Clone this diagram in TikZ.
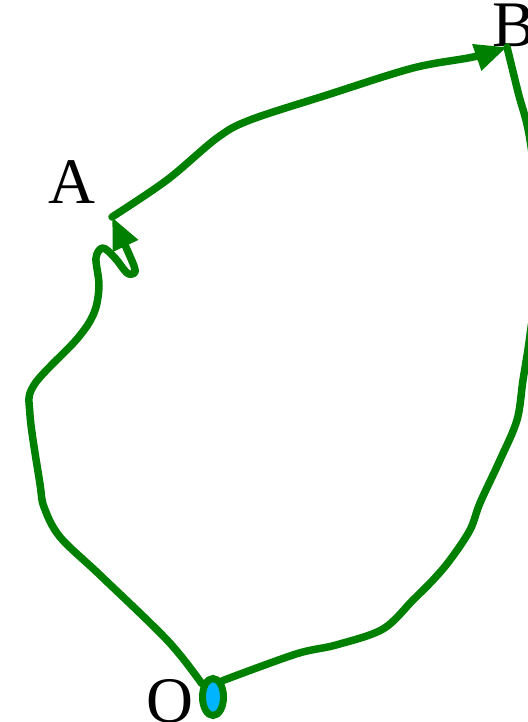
\documentclass[tikz,border=0pt]{standalone}
\usepackage{fontspec}
\setmainfont{Liberation Serif}
\usetikzlibrary{arrows.meta, positioning, shapes.geometric}
\definecolor{meuverde}{RGB}{0, 128, 0}
\definecolor{meuciano}{RGB}{0, 180, 255}

\begin{document}
\begin{tikzpicture}[
    x=1pt, y=-1pt,
    every node/.style={font=\fontsize{65}{78}\selectfont},
    caminho/.style={draw=meuverde, line width=7.5pt, line cap=round, line join=round},
    seta/.style={-{Triangle[length=32pt, width=26pt]}}
]

\useasboundingbox (0,0) rectangle (527,722);

% ------------------------------------------------
% Pontos
% ------------------------------------------------

\node[
    ellipse,
    draw=meuverde,
    fill=meuciano,
    line width=7pt,
    minimum width=21pt,
    minimum height=37pt,
    inner sep=0pt
] (o) at (213,697)
{};

\node[
    anchor=base,
    inner sep=0pt
] (rotO) at (170,722)
{O};

\node[
    anchor=base,
    inner sep=0pt
] (rotA) at (72,203)
{A};

\node[
    anchor=base west,
    inner sep=0pt
] (rotB) at (492,47)
{B};

\coordinate (a) at (112,217);
\coordinate (b) at (507,47);

% ------------------------------------------------
% Caminhos
% ------------------------------------------------

\draw[caminho, seta] plot[smooth, tension=0.55] coordinates {
    (o.130) (168,641) (101,576) (60,537) (44,507) (40,484) (30,415)
    (34,385) (77,339) (94,313) (99,286) (96,258) (103,248) (115,258)
    (126,272) (132,274) (134,266) (a)};

\draw[caminho, seta] plot[smooth, tension=0.55] coordinates {
    (a) (167,180) (217,138) (250,120) (327,95) (413,68) (473,57) (b)};

\draw[caminho] plot[smooth, tension=0.55] coordinates {
    (b) (518,92) (530,140) (541,240) (530,335) (523,380) (517,420)
    (500,460) (480,503) (470,530) (450,560) (433,580) (413,600)
    (383,629) (336,645) (296,654) (o.60)};

\end{tikzpicture}
\end{document}
